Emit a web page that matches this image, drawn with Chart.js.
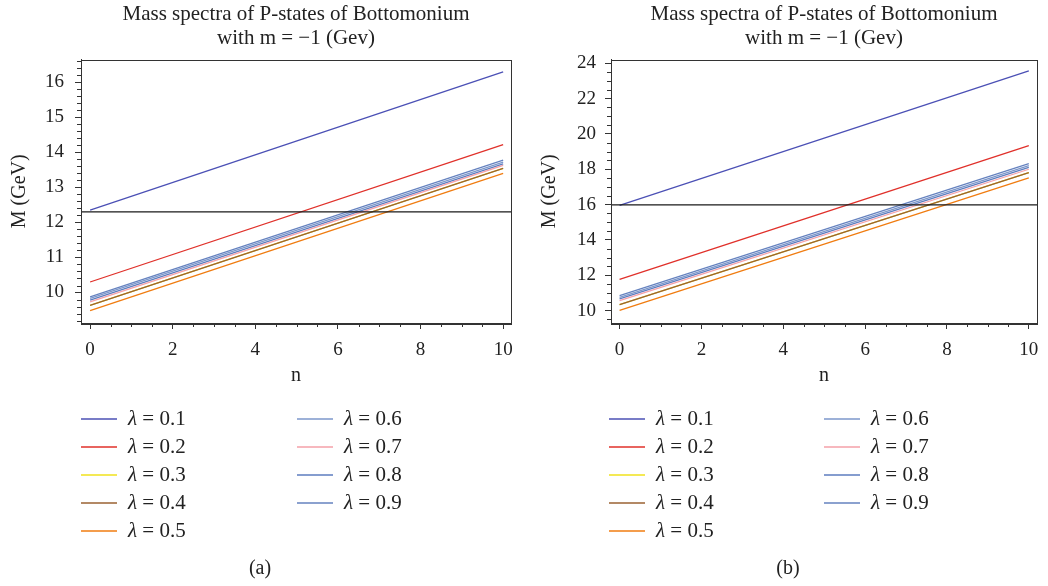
<!DOCTYPE html>
<html lang="en">
<head>
    <meta charset="UTF-8">
    <title>Mass spectra of P-states of Bottomonium</title>
    <script src="https://cdn.jsdelivr.net/npm/chart.js"></script>
    <style>
        body { margin: 0; background: #fff; }
        #wrap { position: relative; width: 1048px; height: 586px; }
        #chartA { position: absolute; left: 0; top: 0; }
        #chartB { position: absolute; left: 520px; top: 0; }
    </style>
</head>
<body>
    <div id="wrap">
        <canvas id="chartA" width="520" height="586"></canvas>
        <canvas id="chartB" width="528" height="586"></canvas>
    </div>
    <script>
        // n values at which the masses were read (lines are straight)
        const nPoints = [0, 10];
        const lambdaLabels = ['0.1', '0.2', '0.3', '0.4', '0.5', '0.6', '0.7', '0.8', '0.9'];
        const lineColors = ['#4b50b5', '#e0302a', '#f0e21c', '#9a6232', '#f07c10', '#7c97cb', '#f5a0a8', '#5d7dbf', '#6582bf'];

        // panel (a)
        const massA_n0  = [12.35, 10.30, 9.63, 9.63, 9.48, 9.83, 9.73, 9.78, 9.875];
        const massA_n10 = [16.30, 14.22, 13.54, 13.54, 13.40, 13.72, 13.63, 13.67, 13.78];
        const refMassA = 12.30;

        // panel (b)
        const massB_n0  = [15.95, 11.77, 10.34, 10.34, 10.02, 10.75, 10.56, 10.66, 10.85];
        const massB_n10 = [23.56, 19.34, 17.81, 17.81, 17.51, 18.21, 18.00, 18.11, 18.32];
        const refMassB = 15.98;

        const xTicks = [0, 2, 4, 6, 8, 10];
        const yTicksA = [10, 11, 12, 13, 14, 15, 16];
        const yTicksB = [10, 12, 14, 16, 18, 20, 22, 24];

        const serif = '"Liberation Serif", "DejaVu Serif", serif';
        const ink = '#222';
        const frame = '#333';
        const xAxisHeight = 65;

        function buildDatasets(start, end, refMass, xMin, xMax) {
            const sets = lambdaLabels.map((lam, i) => ({
                label: lam,
                data: [{ x: nPoints[0], y: start[i] }, { x: nPoints[1], y: end[i] }],
                borderColor: lineColors[i],
                borderWidth: 1.3,
                pointRadius: 0,
                order: i === 2 ? 2 : 1
            }));
            sets.push({
                label: 'ref',
                data: [{ x: xMin, y: refMass }, { x: xMax, y: refMass }],
                borderColor: '#1a1a1a',
                borderWidth: 1.2,
                pointRadius: 0,
                order: 0,
                skipLegend: true
            });
            return sets;
        }

        // frame, minor ticks, title, legend and caption
        const panelDecor = {
            id: 'panelDecor',
            afterDraw(chart, args, opts) {
                const ctx = chart.ctx;
                const area = chart.chartArea;
                const xs = chart.scales.x;
                const ys = chart.scales.y;
                ctx.save();

                ctx.strokeStyle = frame;
                ctx.lineWidth = 1;
                ctx.strokeRect(Math.round(area.left) + 0.5, Math.round(area.top) + 0.5,
                    Math.round(area.right - area.left), Math.round(area.bottom - area.top));

                // minor ticks
                ctx.beginPath();
                for (let k = Math.ceil(ys.min / opts.yMinor); k * opts.yMinor <= ys.max; k++) {
                    const v = k * opts.yMinor;
                    if (opts.yMajor.some(m => Math.abs(m - v) < 1e-6)) continue;
                    const py = Math.round(ys.getPixelForValue(v)) + 0.5;
                    ctx.moveTo(area.left - 4, py);
                    ctx.lineTo(area.left, py);
                }
                for (let k = Math.ceil(xs.min / opts.xMinor); k * opts.xMinor <= xs.max; k++) {
                    const v = k * opts.xMinor;
                    if (xTicks.some(m => Math.abs(m - v) < 1e-6)) continue;
                    const px = Math.round(xs.getPixelForValue(v)) + 0.5;
                    ctx.moveTo(px, area.bottom);
                    ctx.lineTo(px, area.bottom + 4);
                }
                ctx.stroke();

                // title
                ctx.fillStyle = ink;
                ctx.textAlign = 'center';
                ctx.textBaseline = 'middle';
                ctx.font = '21px ' + serif;
                const cx = (area.left + area.right) / 2;
                ctx.fillText('Mass spectra of P-states of Bottomonium', cx, 14);
                ctx.fillText('with m = \u22121 (Gev)', cx, 38);

                // legend, two columns
                chart.data.datasets.forEach((ds, i) => {
                    if (ds.skipLegend) return;
                    const col = i < 5 ? 0 : 1;
                    const row = i % 5;
                    const lx = opts.legendX[col];
                    const ly = opts.legendY + row * 28;
                    ctx.strokeStyle = ds.borderColor;
                    ctx.lineWidth = 1.5;
                    ctx.beginPath();
                    ctx.moveTo(lx, ly);
                    ctx.lineTo(lx + 36, ly);
                    ctx.stroke();
                    ctx.textAlign = 'left';
                    ctx.font = 'italic 21px ' + serif;
                    ctx.fillText('\u03bb', lx + 47, ly);
                    const w = ctx.measureText('\u03bb').width;
                    ctx.font = '21px ' + serif;
                    ctx.fillText(' = ' + ds.label, lx + 47 + w, ly);
                });

                ctx.textAlign = 'center';
                ctx.font = '20px ' + serif;
                ctx.fillText(opts.caption, opts.captionX, 569);
                ctx.restore();
            }
        };

        function makeChart(id, cfg) {
            const ctx = document.getElementById(id).getContext('2d');
            return new Chart(ctx, {
                type: 'line',
                data: { datasets: buildDatasets(cfg.start, cfg.end, cfg.ref, cfg.xMin, cfg.xMax) },
                options: {
                    responsive: false,
                    animation: false,
                    devicePixelRatio: 1,
                    layout: { padding: { left: 0, right: cfg.padRight, top: 59.5, bottom: 586 - 323 - xAxisHeight } },
                    plugins: {
                        legend: { display: false },
                        tooltip: { enabled: false },
                        panelDecor: cfg.decor
                    },
                    scales: {
                        x: {
                            type: 'linear',
                            min: cfg.xMin,
                            max: cfg.xMax,
                            afterBuildTicks: s => { s.ticks = xTicks.map(v => ({ value: v })); },
                            afterFit: s => { s.height = xAxisHeight; s.paddingLeft = 0; s.paddingRight = 0; },
                            grid: { drawOnChartArea: false, tickLength: 6, color: frame },
                            border: { color: frame },
                            ticks: { font: { family: serif, size: 19 }, color: ink, padding: 10, maxRotation: 0, autoSkip: false },
                            title: { display: true, text: 'n', font: { family: serif, size: 20 }, color: ink, padding: { top: 0, bottom: 0 } }
                        },
                        y: {
                            type: 'linear',
                            min: cfg.yMin,
                            max: cfg.yMax,
                            afterBuildTicks: s => { s.ticks = cfg.yTicks.map(v => ({ value: v })); },
                            afterFit: s => { s.width = cfg.yWidth; s.paddingTop = 0; s.paddingBottom = 0; },
                            grid: { drawOnChartArea: false, tickLength: 6, color: frame },
                            border: { color: frame },
                            ticks: { font: { family: serif, size: 19 }, color: ink, padding: cfg.tickPad, autoSkip: false },
                            title: { display: true, text: 'M (GeV)', font: { family: serif, size: 20 }, color: ink, padding: { top: cfg.titlePad, bottom: 0 } }
                        }
                    }
                },
                plugins: [panelDecor]
            });
        }

        makeChart('chartA', {
            start: massA_n0, end: massA_n10, ref: refMassA,
            xMin: -0.22, xMax: 10.19, yMin: 9.13, yMax: 16.65, yTicks: yTicksA,
            yWidth: 81, padRight: 9, tickPad: 11, titlePad: 8,
            decor: { yMinor: 0.2, yMajor: yTicksA, xMinor: 0.5, legendX: [81, 297], legendY: 419, caption: '(a)', captionX: 260 }
        });

        makeChart('chartB', {
            start: massB_n0, end: massB_n10, ref: refMassB,
            xMin: -0.21, xMax: 10.20, yMin: 9.30, yMax: 24.21, yTicks: yTicksB,
            yWidth: 91, padRight: 11, tickPad: 9, titlePad: 18,
            decor: { yMinor: 0.5, yMajor: yTicksB, xMinor: 0.5, legendX: [89, 304], legendY: 419, caption: '(b)', captionX: 268 }
        });
    </script>
</body>
</html>
